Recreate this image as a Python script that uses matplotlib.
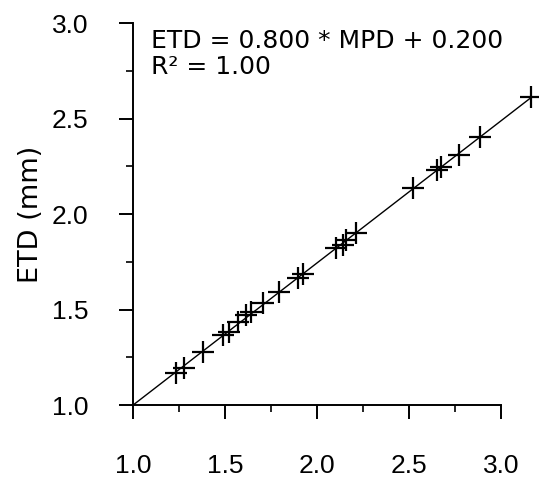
import numpy as np
import matplotlib.pyplot as plt
from matplotlib.ticker import MultipleLocator

# values
mpd = [1.234, 1.277, 1.380, 1.489, 1.522, 1.571, 1.614, 1.641, 1.707, 1.793,
       1.897, 1.924, 2.103, 2.141, 2.158, 2.212, 2.522, 2.652, 2.674, 2.772,
       2.886, 3.163]
etd = [1.168, 1.194, 1.277, 1.366, 1.382, 1.435, 1.471, 1.487, 1.534, 1.592,
       1.665, 1.686, 1.822, 1.838, 1.864, 1.901, 2.136, 2.230, 2.246, 2.309,
       2.403, 2.613]

# fitted line as drawn in the figure
fit_x = [1.0, 3.16]
fit_y = [1.0, 2.61]

eq_text = 'ETD = 0.800 * MPD + 0.200\nR² = 1.00'

plt.rcParams['font.family'] = ['Liberation Sans', 'DejaVu Sans']

fig = plt.figure(figsize=(5.44, 4.84), dpi=100)
ax = fig.add_axes([0.2445, 0.163, 0.745, 0.789])

ax.plot(fit_x, fit_y, 'k-', lw=1.0)
ax.plot(mpd, etd, 'k+', ms=16, mew=1.6, linestyle='none')

ax.set_xlim(1.0, 3.2)
ax.set_ylim(1.0, 3.0)
ax.spines['right'].set_visible(False)
ax.spines['top'].set_visible(False)
ax.spines['bottom'].set_bounds(1.0, 3.0)
ax.spines['left'].set_bounds(1.0, 3.0)
for s in ['left', 'bottom']:
    ax.spines[s].set_linewidth(1.4)

ax.set_xticks([1.0, 1.5, 2.0, 2.5, 3.0])
ax.set_yticks([1.0, 1.5, 2.0, 2.5, 3.0])
ax.xaxis.set_minor_locator(MultipleLocator(0.25))
ax.yaxis.set_minor_locator(MultipleLocator(0.25))
ax.set_xticklabels(['1.0', '1.5', '2.0', '2.5', '3.0'])
ax.set_yticklabels(['1.0', '1.5', '2.0', '2.5', '3.0'])
ax.tick_params(which='major', direction='out', length=10, width=1.4,
               labelsize=19)
ax.tick_params(axis='x', which='major', pad=25)
ax.tick_params(axis='y', which='major', pad=22)
ax.tick_params(which='minor', direction='out', length=5, width=1.2)

ax.set_ylabel('ETD (mm)', fontsize=19.5, family='DejaVu Sans', labelpad=6)

ax.text(0.045, 0.985, eq_text, transform=ax.transAxes, fontsize=18,
        family='DejaVu Sans', va='top', ha='left', linespacing=1.12)

fig.savefig('out.png', dpi=100)
